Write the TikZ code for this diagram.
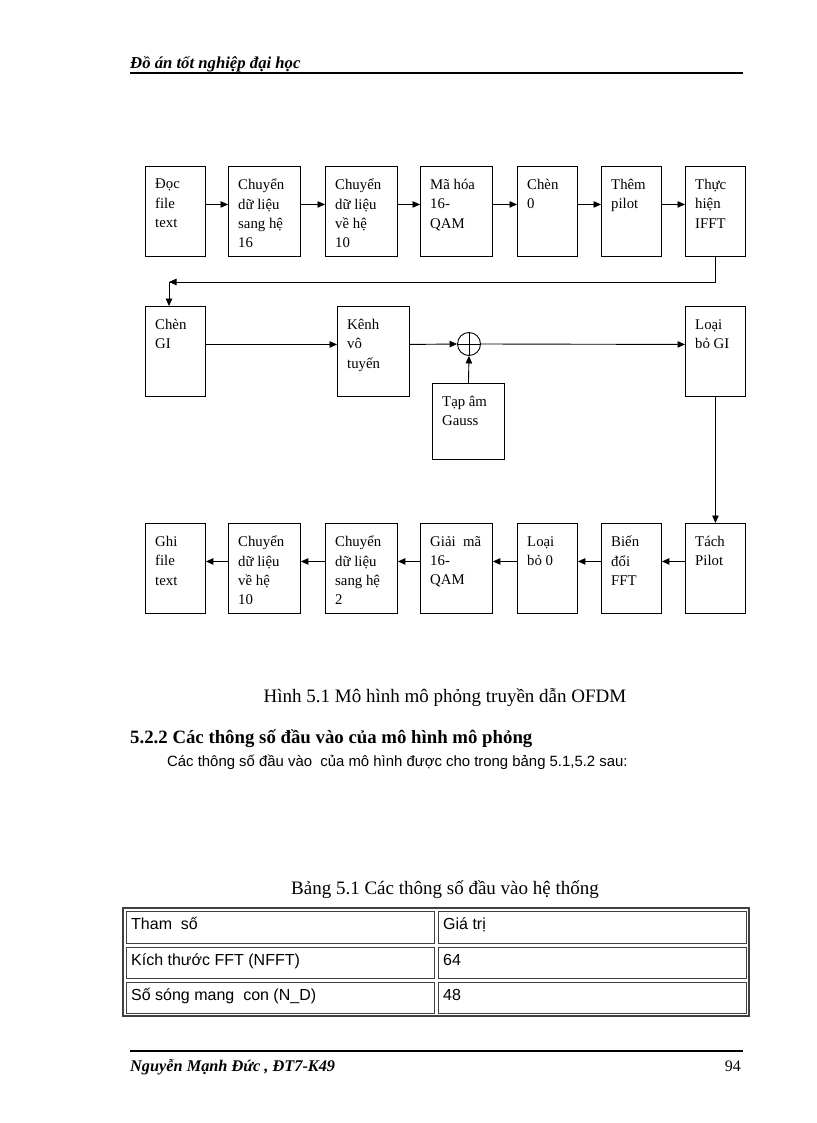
\documentclass[tikz,border=0pt]{standalone}
\usepackage{fontspec}
\setmainfont{Liberation Serif}
\setsansfont{Liberation Sans}
\usetikzlibrary{arrows.meta, positioning}
\tikzset{
  % a processing block, narrow or wide
  blk/.style    = {draw, rectangle, anchor=north west, inner sep=0pt,
                   minimum height=90, line width=0.9pt},
  narrow/.style = {blk, minimum width=60},
  wide/.style   = {blk, minimum width=72},
  % the words written in the top left corner of a block
  lbl/.style    = {anchor=north west, align=left, inner sep=0pt,
                   font=\fontsize{14.8}{19.3}\selectfont,
                   execute at begin node={\rule{0pt}{14pt}},
                   xshift=10pt, yshift=-13pt},
  % the adder where the noise comes in
  adder/.style  = {draw, circle, minimum size=23, inner sep=0pt, line width=0.9pt},
  % a signal arrow
  flow/.style   = {-{Triangle[length=7.5pt,width=6.5pt]}, line width=0.9pt},
  % page furniture
  runner/.style = {anchor=base west, inner sep=0pt,
                   font=\bfseries\itshape\fontsize{16.3}{20}\selectfont},
  hrule/.style  = {line width=2pt},
  figtitle/.style = {anchor=base, inner sep=0pt, font=\fontsize{19}{22}\selectfont},
  sect/.style   = {anchor=base west, inner sep=0pt, font=\bfseries\fontsize{18.8}{22}\selectfont},
  body/.style   = {anchor=base west, inner sep=0pt, font=\sffamily\fontsize{14.9}{18}\selectfont},
  celltext/.style = {body, font=\sffamily\fontsize{16}{19}\selectfont},
  cell/.style   = {draw=black!75, line width=0.8pt},
}

\begin{document}
\begin{tikzpicture}[x=1pt, y=-1pt]
  \useasboundingbox (0,0) rectangle (816,1123);
  % --- running head ---
  \node[runner, font=\bfseries\itshape\fontsize{16.7}{20}\selectfont] (head) at (130,69) {Đồ án tốt nghiệp đại học};
  \draw[hrule] (130,73) -- (743,73);
  % --- transmitter ---
  \node[narrow, label={[lbl]north west:Đọc\\file\\text}]            (read)  at (145,166) {};
  \node[wide,   label={[lbl]north west:Chuyển\\dữ liệu\\sang hệ\\16}] (tohex) at (228,166) {};
  \node[wide,   label={[lbl]north west:Chuyển\\dữ liệu\\về hệ\\10}]   (todec) at (325,166) {};
  \node[wide,   label={[lbl]north west:Mã hóa\\16-\\QAM}]             (qam)   at (420,166) {};
  \node[narrow, label={[lbl]north west:Chèn\\0}]                      (zeros) at (517,166) {};
  \node[narrow, label={[lbl]north west:Thêm\\pilot}]                  (pilot) at (601,166) {};
  \node[narrow, label={[lbl]north west:Thực\\hiện\\IFFT}]             (ifft)  at (685,166) {};
  \draw[flow] ([yshift=7pt]read.east)  -- ([yshift=7pt]tohex.west);
  \draw[flow] ([yshift=7pt]tohex.east) -- ([yshift=7pt]todec.west);
  \draw[flow] ([yshift=7pt]todec.east) -- ([yshift=7pt]qam.west);
  \draw[flow] ([yshift=7pt]qam.east)   -- ([yshift=7pt]zeros.west);
  \draw[flow] ([yshift=7pt]zeros.east) -- ([yshift=7pt]pilot.west);
  \draw[flow] ([yshift=7pt]pilot.east) -- ([yshift=7pt]ifft.west);
  % --- channel ---
  \node[narrow, label={[lbl]north west:Chèn\\GI}]                     (addgi) at (145,306) {};
  \node[wide,   label={[lbl]north west:Kênh\\vô\\tuyến}]              (chan)  at (337,306) {};
  \node[adder]                                                       (sum)   at (469,344) {};
  \node[wide, minimum height=76, label={[lbl]north west:Tạp âm\\Gauss}] (noise) at (432,383) {};
  \node[narrow, label={[lbl]north west:Loại\\bỏ GI}]                  (rmgi)  at (685,306) {};
  \draw (sum.north) -- (sum.south);
  \draw (sum.west) -- (sum.east);
  \coordinate (turn) at (169,282);
  \draw[flow] (ifft.south) |- (turn);
  \draw[flow] (turn) -- (turn |- addgi.north);
  \draw[flow] ([yshift=7pt]addgi.east) -- ([yshift=7pt]chan.west);
  \draw[flow] ([yshift=7pt]chan.east)  -- (sum.west);
  \draw[flow] (sum.east) -- ([yshift=7pt]rmgi.west);
  \draw[flow] (noise.north) -- (sum.south);
  % --- receiver ---
  \node[narrow, label={[lbl]north west:Ghi\\file\\text}]              (write)  at (145,523) {};
  \node[wide,   label={[lbl]north west:Chuyển\\dữ liệu\\về hệ\\10}]   (todec2) at (228,523) {};
  \node[wide,   label={[lbl]north west:Chuyển\\dữ liệu\\sang hệ\\2}]  (tobin)  at (325,523) {};
  \node[wide,   label={[lbl]north west:Giải~ mã\\16-\\QAM}]           (deqam)  at (420,523) {};
  \node[narrow, label={[lbl]north west:Loại\\bỏ 0}]                   (rmzero) at (517,523) {};
  \node[narrow, label={[lbl]north west:Biến\\đổi\\FFT}]               (fft)    at (601,523) {};
  \node[narrow, label={[lbl]north west:Tách\\Pilot}]                  (pilotrm) at (685,523) {};
  \draw[flow] (rmgi.south) -- (pilotrm.north);
  \draw[flow] ([yshift=7pt]pilotrm.west) -- ([yshift=7pt]fft.east);
  \draw[flow] ([yshift=7pt]fft.west)     -- ([yshift=7pt]rmzero.east);
  \draw[flow] ([yshift=7pt]rmzero.west)  -- ([yshift=7pt]deqam.east);
  \draw[flow] ([yshift=7pt]deqam.west)   -- ([yshift=7pt]tobin.east);
  \draw[flow] ([yshift=7pt]tobin.west)   -- ([yshift=7pt]todec2.east);
  \draw[flow] ([yshift=7pt]todec2.west)  -- ([yshift=7pt]write.east);
  % --- text below the figure ---
  \node[figtitle] (figcap) at (445,702) {Hình 5.1 Mô hình mô phỏng truyền dẫn OFDM};
  \node[sect] (sechead) at (130,743) {5.2.2 Các thông số đầu vào của mô hình mô phỏng};
  \node[body] (intro) at (167,766) {Các thông số đầu vào~ của mô hình được cho trong bảng 5.1,5.2 sau:};
  \node[figtitle] (tabcap) at (445,894) {Bảng 5.1 Các thông số đầu vào hệ thống};
  % --- table ---
  \draw[cell, line width=1.4pt] (123,908) rectangle (749,1016);
  \draw[cell] (126,911) rectangle (434,943);
  \draw[cell] (438,911) rectangle (746,943);
  \draw[cell] (126,947) rectangle (434,978);
  \draw[cell] (438,947) rectangle (746,978);
  \draw[cell] (126,982) rectangle (434,1013);
  \draw[cell] (438,982) rectangle (746,1013);
  \node[celltext] (k1) at (131,929)  {Tham~ số};
  \node[celltext] (v1) at (443,929)  {Giá trị};
  \node[celltext] (k2) at (131,965)  {Kích thước FFT (NFFT)};
  \node[celltext] (v2) at (443,965)  {64};
  \node[celltext] (k3) at (131,1000) {Số sóng mang~ con (N\_D)};
  \node[celltext] (v3) at (443,1000) {48};
  % --- running foot ---
  \draw[hrule] (130,1051) -- (743,1051);
  \node[runner] (foot) at (130,1071) {Nguyễn Mạnh Đức , ĐT7-K49};
  \node[anchor=base east, inner sep=0pt, font=\fontsize{16}{19}\selectfont] (page) at (741,1071) {94};
\end{tikzpicture}
\end{document}
